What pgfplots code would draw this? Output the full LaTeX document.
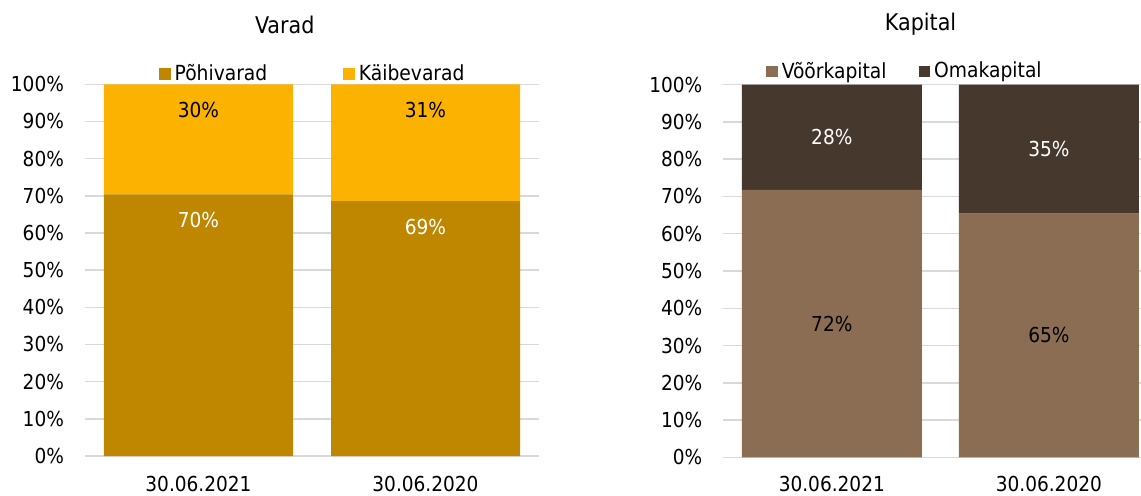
\documentclass[border=0pt]{standalone}
\usepackage{pgfplots}
\pgfplotsset{compat=1.18}
\usepackage{fontspec}
\setmainfont{DejaVu Sans Condensed}
\definecolor{pohi}{RGB}{191,135,0}
\definecolor{kaibe}{RGB}{251,178,0}
\definecolor{voor}{RGB}{138,109,82}
\definecolor{oma}{RGB}{70,56,44}
\definecolor{gridgray}{RGB}{217,217,217}
\pgfplotsset{
  base/.style={
    ybar stacked,
    scale only axis,
    anchor=south west,
    enlargelimits=false,
    xmin=-0.5,
    ymin=0, ymax=100,
    ytick={0,10,...,100},
    yticklabel={\pgfmathprintnumber{\tick}\%},
    xtick={0,1},
    xticklabels={30.06.2021,30.06.2020},
    axis line style={draw=none},
    tick style={draw=none},
    ymajorgrids,
    grid style={gridgray, line width=0.75pt},
    /pgf/number format/assume math mode=true,
    tick label style={font=\fontsize{10.3}{12}\selectfont},
    yticklabel style={xshift=-7pt},
    every axis title shift=0pt,
    title style={font=\fontsize{11.5}{13}\selectfont},
    legend style={draw=none, fill=none, legend columns=2, anchor=center,
      font=\fontsize{10.4}{12}\selectfont, nodes={inner sep=2pt}},
    legend cell align=left,
    legend image code/.code={\fill[##1] (0pt,-2.9pt) rectangle (5.8pt,2.9pt);},
    point meta=rawy,
    nodes near coords={\pgfmathprintnumber[fixed,precision=0]{\pgfplotspointmeta}\%},
    every node near coord/.append style={font=\fontsize{10.3}{12}\selectfont, anchor=center},
  }
}
\begin{document}
\begin{tikzpicture}
\useasboundingbox (0,0) rectangle (570.5pt,247.5pt);
% Varad
\begin{axis}[base,
  at={(42.5pt,19.5pt)},
  width=227pt, height=185.85pt,
  xmax=1.5, bar width=94.5pt,
  xticklabel style={anchor=center, yshift=-14pt},
  title={Varad}, title style={at={(0.44,1)}, anchor=center, yshift=29.9pt},
  legend style={at={(0.504,1)}, yshift=5.1pt,
    /tikz/every even column/.append style={column sep=36pt}},
  visualization depends on=rawy \as \rawy,
  every node near coord/.append style={shift={(axis direction cs:0,\rawy/2)}, yshift=-13pt},
]
\addplot[fill=pohi, draw=none, every node near coord/.append style={text=white}]
  coordinates {(0,70.4) (1,68.6)};
\addplot[fill=kaibe, draw=none, every node near coord/.append style={text=black}]
  coordinates {(0,29.6) (1,31.4)};
\legend{Põhivarad, Käibevarad}
\end{axis}
% Kapital
\begin{axis}[base,
  at={(361.65pt,18.85pt)},
  width=209pt, height=186.3pt,
  xmax=1.426, bar width=90pt,
  xticklabel style={anchor=center, yshift=-13.4pt},
  title={Kapital}, title style={at={(0.472,1)}, anchor=center, yshift=30.3pt},
  legend style={at={(0.437,1)}, yshift=6.6pt,
    /tikz/every even column/.append style={column sep=14pt}},
]
\addplot[fill=voor, draw=none, every node near coord/.append style={text=black}]
  coordinates {(0,71.8) (1,65.4)};
\addplot[fill=oma, draw=none, every node near coord/.append style={text=white}]
  coordinates {(0,28.2) (1,34.6)};
\legend{Võõrkapital, Omakapital}
\end{axis}
\end{tikzpicture}
\end{document}
